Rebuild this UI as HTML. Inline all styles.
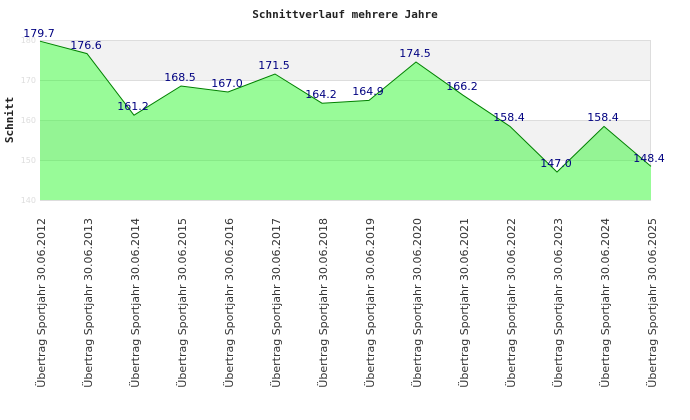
<!DOCTYPE html>
<html><head><meta charset="utf-8"><style>body{margin:0;background:#fff}svg{display:block}</style></head><body>
<svg width="690" height="420" xmlns="http://www.w3.org/2000/svg" font-family="DejaVu Sans, Liberation Sans, sans-serif">
<defs><clipPath id="c"><polygon points="40,200 40,41.2 87,53.6 134,115.2 181,86 228,92 275,74 322,103.2 369,100.4 416,62 463,95.2 510,126.4 557,172 604,126.4 651,166.4 651,200"/></clipPath></defs>
<text x="345" y="18" text-anchor="middle" font-family="DejaVu Sans Mono, Liberation Mono, monospace" font-weight="bold" font-size="11" fill="#222">Schnittverlauf mehrere Jahre</text>
<text transform="translate(13,120) rotate(-90)" text-anchor="middle" font-family="DejaVu Sans Mono, Liberation Mono, monospace" font-weight="bold" font-size="11" fill="#222">Schnitt</text>
<rect x="40" y="40" width="611" height="40" fill="#f2f2f2"/>
<rect x="40" y="120" width="611" height="40" fill="#f2f2f2"/>
<g stroke="#ddd" stroke-width="1">
<line x1="40" y1="40.5" x2="651" y2="40.5"/><line x1="40" y1="80.5" x2="651" y2="80.5"/><line x1="40" y1="120.5" x2="651" y2="120.5"/><line x1="40" y1="160.5" x2="651" y2="160.5"/><line x1="40" y1="200.5" x2="651" y2="200.5"/>
<line x1="40.5" y1="40" x2="40.5" y2="200"/><line x1="650.5" y1="40" x2="650.5" y2="200"/>
</g>
<g font-size="8" fill="#ddd" text-anchor="end">
<text x="36" y="43">180</text><text x="36" y="83">170</text><text x="36" y="123">160</text><text x="36" y="163">150</text><text x="36" y="203">140</text>
</g>
<polygon fill="#98fb98" points="40,200 40,41.2 87,53.6 134,115.2 181,86 228,92 275,74 322,103.2 369,100.4 416,62 463,95.2 510,126.4 557,172 604,126.4 651,166.4 651,200"/>
<g stroke="#88ea88" stroke-width="1" clip-path="url(#c)">
<line x1="40" y1="80.5" x2="651" y2="80.5"/><line x1="40" y1="120.5" x2="651" y2="120.5"/><line x1="40" y1="160.5" x2="651" y2="160.5"/>
<rect x="40" y="120" width="611" height="40" fill="#94f494" stroke="none"/>
<line x1="40" y1="120.5" x2="651" y2="120.5"/><line x1="40" y1="160.5" x2="651" y2="160.5"/>
</g>
<polyline fill="none" stroke="#008000" stroke-width="1" points="40,41.2 87,53.6 134,115.2 181,86 228,92 275,74 322,103.2 369,100.4 416,62 463,95.2 510,126.4 557,172 604,126.4 651,166.4"/>
<line x1="40" y1="200.5" x2="651" y2="200.5" stroke="#ddd"/>
<g font-size="11" fill="#000080" text-anchor="middle">
<text x="39" y="37">179.7</text><text x="86" y="49">176.6</text><text x="133" y="110">161.2</text><text x="180" y="81">168.5</text><text x="227" y="87">167.0</text><text x="274" y="69">171.5</text><text x="321" y="98">164.2</text><text x="368" y="95">164.9</text><text x="415" y="57">174.5</text><text x="462" y="90">166.2</text><text x="509" y="121">158.4</text><text x="556" y="167">147.0</text><text x="603" y="121">158.4</text><text x="649" y="162">148.4</text>
</g>
<g font-size="11" fill="#333" text-anchor="end">
<text transform="translate(45,218) rotate(-90)">Übertrag Sportjahr 30.06.2012</text>
<text transform="translate(92,218) rotate(-90)">Übertrag Sportjahr 30.06.2013</text>
<text transform="translate(139,218) rotate(-90)">Übertrag Sportjahr 30.06.2014</text>
<text transform="translate(186,218) rotate(-90)">Übertrag Sportjahr 30.06.2015</text>
<text transform="translate(233,218) rotate(-90)">Übertrag Sportjahr 30.06.2016</text>
<text transform="translate(280,218) rotate(-90)">Übertrag Sportjahr 30.06.2017</text>
<text transform="translate(327,218) rotate(-90)">Übertrag Sportjahr 30.06.2018</text>
<text transform="translate(374,218) rotate(-90)">Übertrag Sportjahr 30.06.2019</text>
<text transform="translate(421,218) rotate(-90)">Übertrag Sportjahr 30.06.2020</text>
<text transform="translate(468,218) rotate(-90)">Übertrag Sportjahr 30.06.2021</text>
<text transform="translate(515,218) rotate(-90)">Übertrag Sportjahr 30.06.2022</text>
<text transform="translate(562,218) rotate(-90)">Übertrag Sportjahr 30.06.2023</text>
<text transform="translate(609,218) rotate(-90)">Übertrag Sportjahr 30.06.2024</text>
<text transform="translate(656,218) rotate(-90)">Übertrag Sportjahr 30.06.2025</text>
</g>
</svg>
</body></html>
